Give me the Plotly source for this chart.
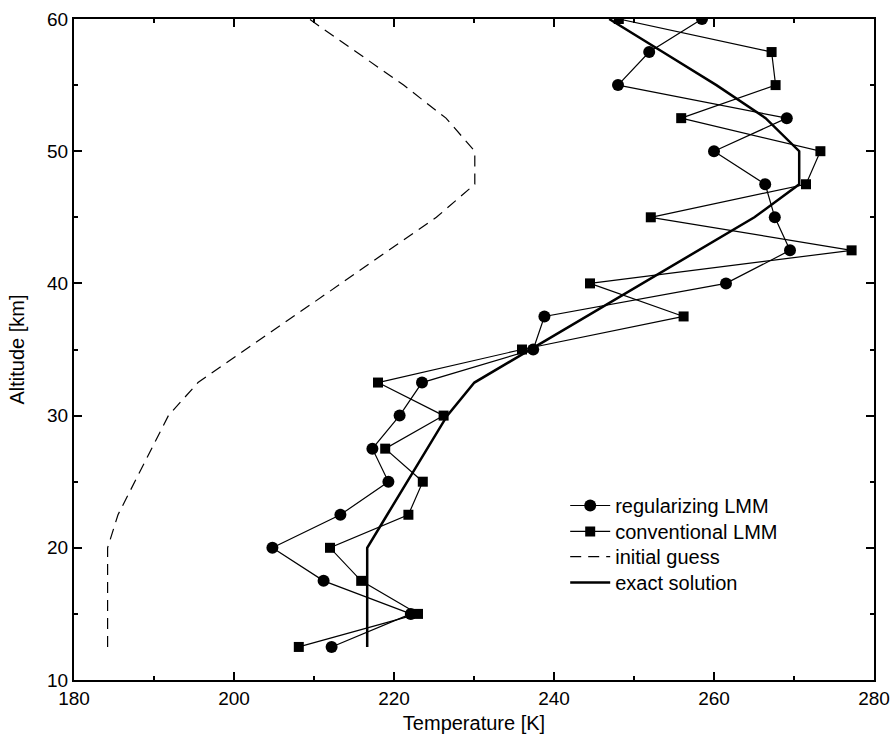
import plotly.graph_objects as go

altitude = [12.5, 15, 17.5, 20, 22.5, 25, 27.5, 30, 32.5, 35, 37.5, 40,
            42.5, 45, 47.5, 50, 52.5, 55, 57.5, 60]

regularizing = [212.2, 222.1, 211.2, 204.8, 213.3, 219.3, 217.3, 220.7, 223.5, 237.4,
                238.8, 261.5, 269.5, 267.6, 266.4, 260.0, 269.1, 248.0, 251.9, 258.5]

conventional = [208.1, 223.0, 215.9, 212.0, 221.8, 223.6, 218.9, 226.2, 218.0, 236.0,
                256.2, 244.5, 277.2, 252.1, 271.5, 273.3, 255.9, 267.7, 267.2, 248.1]

initial_guess = [184.2, 184.2, 184.2, 184.2, 185.5, 187.6, 189.7, 191.8, 195.5, 201.5,
                 207.4, 213.4, 219.3, 225.3, 230.1, 230.1, 226.5, 221.2, 215.3, 209.4]

exact_solution = [216.65, 216.65, 216.65, 216.65, 219.15, 221.65, 224.15, 226.65, 230.05, 237.05,
                  244.05, 251.05, 258.05, 265.05, 270.65, 270.65, 266.45, 260.3, 253.6, 246.9]

FONT = "Liberation Sans, Arial, sans-serif"

fig = go.Figure()
fig.add_trace(go.Scatter(x=regularizing, y=altitude, mode="lines+markers",
                         name="regularizing LMM", legend="legend",
                         line=dict(color="black", width=1.2),
                         marker=dict(symbol="circle", size=12, color="black")))
fig.add_trace(go.Scatter(x=conventional, y=altitude, mode="lines+markers",
                         name="conventional LMM", legend="legend2",
                         line=dict(color="black", width=1.2),
                         marker=dict(symbol="square", size=10, color="black")))
fig.add_trace(go.Scatter(x=initial_guess, y=altitude, mode="lines",
                         name="initial guess", legend="legend3",
                         line=dict(color="black", width=1.2, dash="11px,7px")))
fig.add_trace(go.Scatter(x=exact_solution, y=altitude, mode="lines",
                         name="exact solution", legend="legend4",
                         line=dict(color="black", width=2.5)))

axis_common = dict(showgrid=False, zeroline=False, showline=True, linecolor="black",
                   linewidth=2, mirror="ticks", ticks="inside", ticklen=8, tickwidth=1.5,
                   tickcolor="black", automargin=False,
                   tickfont=dict(family=FONT, size=19, color="black"))

fig.update_xaxes(range=[180, 280], dtick=20, tick0=180,
                 title=dict(text="Temperature [K]", font=dict(family=FONT, size=20, color="black"),
                            standoff=8),
                 minor=dict(dtick=10, ticks="inside", ticklen=4, tickwidth=1.5, tickcolor="black"),
                 **axis_common)
fig.update_yaxes(range=[10, 60], dtick=10, tick0=10,
                 title=dict(text="Altitude [km]", font=dict(family=FONT, size=20, color="black"),
                            standoff=17),
                 minor=dict(dtick=5, ticks="inside", ticklen=4, tickwidth=1.5, tickcolor="black"),
                 **axis_common)

legend_common = dict(x=0.614, xanchor="left", yanchor="top", bgcolor="rgba(0,0,0,0)",
                     font=dict(family=FONT, size=20, color="black"), itemwidth=40)

fig.update_layout(
    width=892, height=743,
    margin=dict(l=74, r=18, t=19, b=63),
    plot_bgcolor="white", paper_bgcolor="white",
    font=dict(family=FONT, color="black"),
    legend=dict(y=0.2935, **legend_common),
    legend2=dict(y=0.2542, **legend_common),
    legend3=dict(y=0.2163, **legend_common),
    legend4=dict(y=0.1770, **legend_common),
    showlegend=True,
)

# remove the browser's default 8px body margin so the figure fills the window
fig.write_html("out.html",
               config={"displayModeBar": False},
               post_script="document.body.style.margin='0';"
                           "document.body.style.overflow='hidden';")
